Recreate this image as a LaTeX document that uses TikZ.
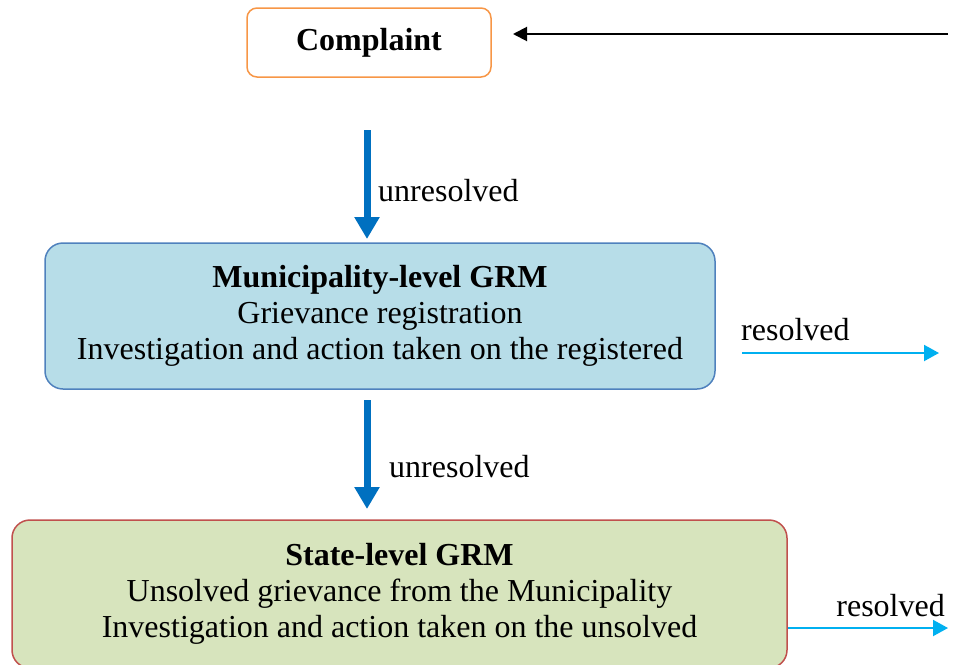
\documentclass[tikz,border=0pt]{standalone}
\usepackage{fontspec}
\setmainfont{Liberation Serif}
\usetikzlibrary{arrows.meta}
\usetikzlibrary{positioning}

\definecolor{orangeline}{HTML}{F79646}
\definecolor{blueline}{HTML}{4F81BD}
\definecolor{bluefill}{HTML}{B7DDE8}
\definecolor{redline}{HTML}{C0504D}
\definecolor{greenfill}{HTML}{D7E4BD}
\definecolor{downblue}{HTML}{0070C0}
\definecolor{sideblue}{HTML}{00B0F0}

\tikzset{
  levelbox/.style={rectangle,rounded corners=18pt,line width=1.5pt,align=center,
    font=\fontsize{32}{36}\selectfont,inner sep=0pt},
  downarrow/.style={draw=downblue,line width=7pt,-{Triangle[width=24pt,length=22pt]}},
  sidearrow/.style={draw=sideblue,line width=2pt,-{Triangle[width=16pt,length=15pt]}},
  arrowlabel/.style={font=\fontsize{32}{36}\selectfont,text=black,inner sep=0pt}
}

\begin{document}
\begin{tikzpicture}[x=1pt,y=-1pt]
\useasboundingbox (0,0) rectangle (960,664);
\clip (0,0) rectangle (960,664);

\node[levelbox,draw=orangeline,rounded corners=10pt,minimum width=244pt,minimum height=69pt] (complaint) at (369,42.5) {\textbf{Complaint}};
\node[levelbox,draw=blueline,fill=bluefill,minimum width=670pt,minimum height=146pt] (muni) at (380,316) {\textbf{Municipality-level GRM}\\Grievance registration\\Investigation and action taken on the registered};
\node[levelbox,draw=redline,fill=greenfill,minimum width=775pt,minimum height=148pt] (state) at (399.5,594) {\textbf{State-level GRM}\\Unsolved grievance from the Municipality\\Investigation and action taken on the unsolved};

% free ends of the connectors
\coordinate (incoming) at (948,34);
\coordinate (complaintin) at (513,34);
\coordinate (topstart) at (367,130);
\coordinate (topend) at (367,239);
\coordinate (midstart) at (367,400);
\coordinate (midend) at (367,509);
\coordinate (munileft) at (742,353);
\coordinate (muniout) at (939,353);
\coordinate (stateout) at (948,628);

\draw[line width=2pt,-{Triangle[width=14pt,length=14pt]}] (incoming) -- (complaintin);
\draw[downarrow] (topstart) -- (topend);
\draw[downarrow] (midstart) -- (midend);
\draw[sidearrow] (munileft) -- (muniout);
\draw[sidearrow] (state.east |- stateout) -- (stateout);

\node[arrowlabel,anchor=west] at (378,191) {unresolved};
\node[arrowlabel,anchor=west] at (389,467) {unresolved};
\node[arrowlabel,anchor=west] at (741,330) {resolved};
\node[arrowlabel,anchor=east] at (945,606) {resolved};

\end{tikzpicture}
\end{document}
